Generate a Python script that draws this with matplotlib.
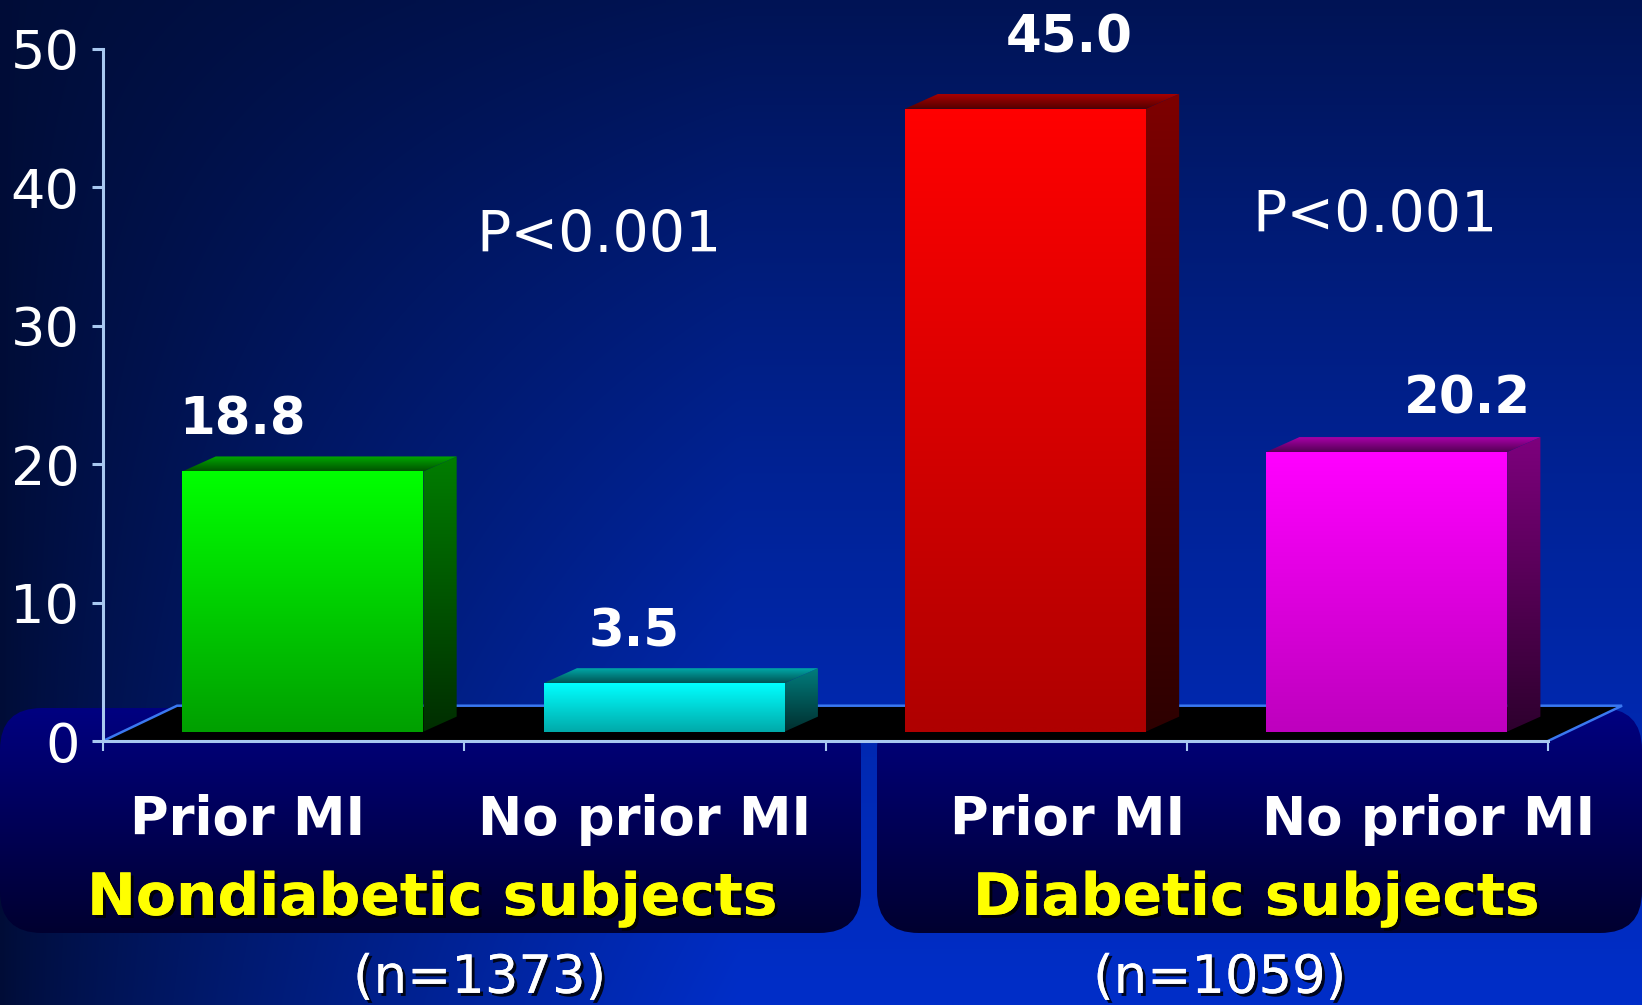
import numpy as np
import matplotlib

matplotlib.use("Agg")
import matplotlib.pyplot as plt
from matplotlib import patheffects as pe
from matplotlib.patches import FancyBboxPatch, Polygon

# MI event rates (%) by prior-MI status, nondiabetic vs diabetic subjects
categories = ["Prior MI", "No prior MI", "Prior MI", "No prior MI"]
values = [18.8, 3.5, 45.0, 20.2]
groups = ["Nondiabetic subjects", "Diabetic subjects"]
group_sizes = ["(n=1373)", "(n=1059)"]
p_labels = ["P<0.001", "P<0.001"]
yticks = [0, 10, 20, 30, 40, 50]

# front-face colour, top -> bottom, per bar
front_top = [(0, 255, 0), (0, 255, 255), (255, 0, 0), (255, 0, 255)]
front_bot = [(0, 160, 0), (0, 170, 170), (175, 0, 0), (190, 0, 190)]

AXIS_C = "#a8c8f0"
EDGE_C = "#3a78f0"
FONT = "DejaVu Sans"

# pseudo-3D geometry (data units)
BAR_W = 0.667
BAR_OFF = 0.22        # left edge of front face inside its slot
BASE = 0.68           # front face sits a little behind the floor edge
DX, DY = 0.092, 1.08  # bar depth
FLOOR_DX, FLOOR_DY = 0.205, 2.55


def shade(c, k):
    return tuple(int(round(ch * k)) for ch in c)


def gradient_fill(ax, verts, c_top, c_bot, z):
    xs, ys = zip(*verts)
    t = np.linspace(0, 1, 64)[:, None]
    rgb = ((1 - t) * np.array(c_top) + t * np.array(c_bot)) / 255
    img = np.repeat(rgb[:, None, :], 2, axis=1)
    im = ax.imshow(img, extent=(min(xs), max(xs), min(ys), max(ys)), origin="upper",
                   aspect="auto", interpolation="bilinear", zorder=z)
    clip = Polygon(verts, closed=True, transform=ax.transData)
    im.set_clip_path(clip)
    im.set_clip_box(None)
    return im


fig = plt.figure(figsize=(16.42, 10.05), dpi=100)

# backdrop: dark navy on the left brightening to royal blue bottom-right
bg = fig.add_axes([0, 0, 1, 1])
bg.set_zorder(-1)
bg.set_xlim(0, 1642)
bg.set_ylim(1005, 0)
bg.axis("off")
v = np.linspace(0, 1, 201)[:, None]
u = np.linspace(0, 1, 329)[None, :]
vert = 85 + 150 * v - 35 * v ** 2
b = 55 + (vert - 55) * np.clip(u / 0.45, 0, 1) ** 0.8
bg.imshow(np.dstack([np.zeros_like(b), 0.23 * b, b]) / 255, extent=(0, 1642, 1005, 0),
          aspect="auto", interpolation="bilinear", zorder=0)

# rounded label panels under each group
for x0, x1 in [(0, 861), (877, 1642)]:
    box = FancyBboxPatch((x0, 708), x1 - x0, 225, boxstyle="round,pad=0,rounding_size=42",
                         transform=bg.transData, facecolor="none", edgecolor="none")
    bg.add_patch(box)
    t = np.linspace(0, 1, 64)[:, None]
    col = ((1 - t) * np.array([0, 0, 128]) + t * np.array([0, 0, 48])) / 255
    im = bg.imshow(np.repeat(col[:, None, :], 2, axis=1), extent=(x0, x1, 933, 708),
                   origin="upper", aspect="auto", interpolation="bilinear", zorder=1)
    im.set_clip_path(box)

ax = fig.add_axes([103 / 1642, 264 / 1005, 4.25 * 361.25 / 1642, 692 / 1005])
ax.patch.set_alpha(0)
n = len(values)

# floor
floor = [(0, 0), (n, 0), (n + FLOOR_DX, FLOOR_DY), (FLOOR_DX, FLOOR_DY)]
ax.add_patch(Polygon(floor, closed=True, facecolor="black", edgecolor="none", zorder=1))
ax.plot([0, FLOOR_DX, n + FLOOR_DX, n], [0, FLOOR_DY, FLOOR_DY, 0],
        color=EDGE_C, lw=1.8, zorder=1.5, solid_joinstyle="miter")

for i, val in enumerate(values):
    x0 = i + BAR_OFF
    x1 = x0 + BAR_W
    y0 = BASE
    y1 = BASE + val
    c = front_top[i]
    front = [(x0, y0), (x1, y0), (x1, y1), (x0, y1)]
    side = [(x1, y0), (x1 + DX, y0 + DY), (x1 + DX, y1 + DY), (x1, y1)]
    top = [(x0, y1), (x1, y1), (x1 + DX, y1 + DY), (x0 + DX, y1 + DY)]
    gradient_fill(ax, side, shade(c, 0.49), shade(c, 0.18), 3)
    gradient_fill(ax, top, shade(c, 0.66), shade(c, 0.33), 3)
    gradient_fill(ax, front, front_top[i], front_bot[i], 4)

# value labels above bars
value_label_x = [0.387, 1.469, 2.675, 3.776]
value_label_gap = [3.34, 3.36, 4.74, 3.48]
for x, val, gap in zip(value_label_x, values, value_label_gap):
    ax.text(x, val + gap, f"{val:.1f}", ha="center", va="baseline", color="white",
            fontsize=37, fontweight="bold", family=FONT, zorder=6)

# significance
for (x, y), s in zip([(1.372, 35.3), (3.52, 36.8)], p_labels):
    ax.text(x, y, s, ha="center", va="baseline", color="white", fontsize=41, family=FONT)

# category labels, group titles, group sizes
shadow = [pe.withSimplePatchShadow(offset=(2.2, -2.2), shadow_rgbFace="black", alpha=0.85),
          pe.Normal()]
for x, s in zip([0.40, 1.50, 2.67, 3.67], categories):
    ax.text(x, -6.77, s, ha="center", va="baseline", color="white", fontsize=38,
            fontweight="bold", family=FONT)
for x, s in zip([0.912, 3.193], groups):
    ax.text(x, -12.57, s, ha="center", va="baseline", color="#ffff00", fontsize=42,
            fontweight="bold", family=FONT, path_effects=shadow)
for x, s in zip([1.042, 3.091], group_sizes):
    ax.text(x, -18.2, s, ha="center", va="baseline", color="white", fontsize=38,
            family=FONT, path_effects=shadow)

ax.set_xlim(0, 4.25)
ax.set_ylim(0, 50)
for side_name in ["top", "right"]:
    ax.spines[side_name].set_visible(False)
ax.spines["left"].set_bounds(0, 50)
ax.spines["bottom"].set_bounds(0, n)
for sp in ["left", "bottom"]:
    ax.spines[sp].set_color(AXIS_C)
    ax.spines[sp].set_linewidth(2.2)
    ax.spines[sp].set_zorder(2.5)
ax.set_yticks(yticks)
ax.set_yticklabels([str(t) for t in yticks], family=FONT)
ax.tick_params(axis="y", length=8, width=2.2, color=AXIS_C, labelcolor="white",
               labelsize=39, pad=9)
ax.set_xticks(range(n + 1))
ax.set_xticklabels([])
ax.tick_params(axis="x", length=7.5, width=1.5, color=AXIS_C)

fig.savefig("out.png", dpi=100)
